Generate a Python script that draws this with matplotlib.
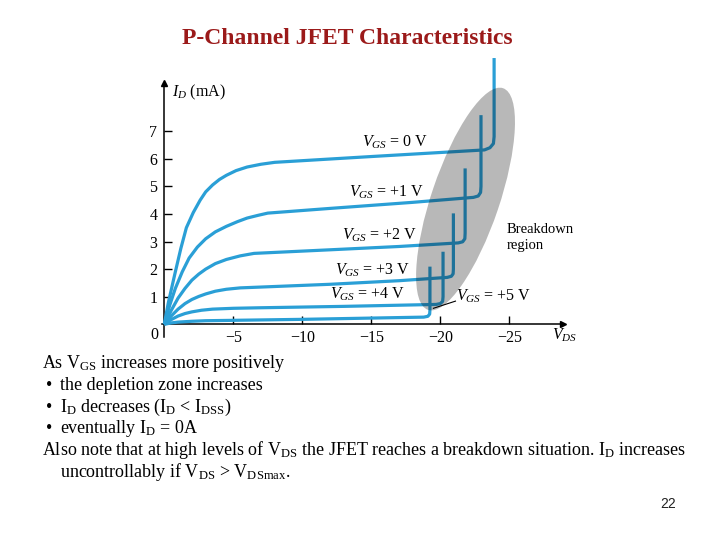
import matplotlib
matplotlib.use("Agg")
import matplotlib.pyplot as plt
from matplotlib.patches import Ellipse
from matplotlib.transforms import ScaledTranslation

plt.rcParams['font.family'] = ['Liberation Serif', 'DejaVu Serif']
plt.rcParams['mathtext.fontset'] = 'custom'
plt.rcParams['mathtext.rm'] = 'Liberation Serif'
plt.rcParams['mathtext.it'] = 'Liberation Serif:italic'

# Drain characteristics (V_DS in volts, I_D in mA)
vds_0 = [0, -0.3, -0.8, -1.2, -1.6, -2.1, -2.6, -3.0, -3.5, -4.0, -4.5, -5.2, -6, -7, -8,
         -15, -23.2, -23.6, -23.85, -23.9, -23.9]
id_0 = [0, 0.8, 1.9, 2.75, 3.5, 4.05, 4.5, 4.8, 5.05, 5.25, 5.4, 5.57, 5.7, 5.8, 5.87,
        6.08, 6.32, 6.4, 6.55, 6.8, 9.65]

vds_1 = [0, -0.4, -0.8, -1.3, -1.8, -2.4, -3, -3.7, -4.5, -5.3, -6, -6.8, -7.5,
         -12, -18, -22.4, -22.75, -22.92, -22.95, -22.95]
id_1 = [0, 0.7, 1.3, 1.9, 2.4, 2.8, 3.1, 3.35, 3.55, 3.72, 3.85, 3.95, 4.03,
        4.2, 4.42, 4.6, 4.65, 4.78, 5.0, 7.58]

vds_2 = [0, -0.5, -1, -1.5, -2, -2.5, -3, -3.7, -4.5, -5.5, -6.5,
         -12, -17, -21.3, -21.62, -21.78, -21.8, -21.8]
id_2 = [0, 0.5, 0.95, 1.3, 1.6, 1.82, 2.0, 2.2, 2.35, 2.48, 2.57,
        2.7, 2.82, 2.95, 2.99, 3.1, 3.3, 5.65]

vds_3 = [0, -0.5, -1, -1.5, -2, -2.5, -3, -3.7, -4.5, -5.5, -7,
         -12, -17, -20.5, -20.8, -20.93, -20.95, -20.95]
id_3 = [0, 0.3, 0.55, 0.75, 0.9, 1.01, 1.1, 1.2, 1.27, 1.32, 1.35,
        1.45, 1.58, 1.7, 1.74, 1.83, 2.0, 4.02]

vds_4 = [0, -0.5, -1, -1.5, -2, -2.7, -3.5, -5, -7, -13, -19.7, -20.0, -20.17, -20.2, -20.2]
id_4 = [0, 0.17, 0.3, 0.39, 0.45, 0.51, 0.55, 0.58, 0.6, 0.65, 0.72, 0.75, 0.83, 1.0, 2.63]

vds_5 = [0, -0.5, -1, -2, -3, -10, -18.8, -19.1, -19.23, -19.25, -19.25]
id_5 = [0, 0.05, 0.08, 0.11, 0.13, 0.18, 0.26, 0.29, 0.37, 0.52, 2.09]

curves = [(vds_0, id_0), (vds_1, id_1), (vds_2, id_2),
          (vds_3, id_3), (vds_4, id_4), (vds_5, id_5)]

vgs_labels = [r'$V_{GS}$ = 0 V', r'$V_{GS}$ = +1 V', r'$V_{GS}$ = +2 V',
              r'$V_{GS}$ = +3 V', r'$V_{GS}$ = +4 V', r'$V_{GS}$ = +5 V']
label_x = [-16.7, -16.1, -15.6, -15.1, -14.7, -23.9]
label_y = [6.6, 4.77, 3.24, 1.97, 1.09, 1.0]

x_ticks = [-5, -10, -15, -20, -25]
y_ticks = [1, 2, 3, 4, 5, 6, 7]

line_color = '#2a9fd6'

fig = plt.figure(figsize=(7.2, 5.4), dpi=100)
ax = fig.add_axes([140 / 720, 195 / 540, 430 / 720, 290 / 540])
ax.set_xlim(1.76, -29.4)
ax.set_ylim(-0.75, 9.76)

for vds, i_d in curves:
    ax.plot(vds, i_d, color=line_color, lw=2.3, solid_capstyle='butt',
            solid_joinstyle='round', zorder=3)

# breakdown region shading
ell = Ellipse((0, 0), width=2.34, height=0.68, angle=71.3,
              transform=fig.dpi_scale_trans + ScaledTranslation(-21.83, 4.54, ax.transData),
              facecolor='black', alpha=0.28, edgecolor='none', zorder=4)
ax.add_patch(ell)

for lab, lx, ly in zip(vgs_labels, label_x, label_y):
    ax.text(lx, ly, lab, ha='center', va='center', fontsize=11.5, zorder=5)
ax.plot([-21.1, -19.5], [0.84, 0.58], color='black', lw=0.8, zorder=5)
ax.text(-24.8, 3.45, 'Breakdown', ha='left', va='center', fontsize=10.5)
ax.text(-24.8, 2.84, 'region', ha='left', va='center', fontsize=10.5)

# axes drawn through the origin with arrows
for side in ['top', 'right']:
    ax.spines[side].set_visible(False)
ax.spines['left'].set_position(('data', 0))
ax.spines['bottom'].set_position(('data', 0))
ax.spines['left'].set_bounds(-0.45, 8.7)
ax.spines['bottom'].set_bounds(0.2, -28.9)
ax.spines['left'].set_linewidth(1.1)
ax.spines['bottom'].set_linewidth(1.1)
ax.plot(0, 8.74, marker='^', color='black', markersize=5, zorder=6, clip_on=False)
ax.plot(-28.9, 0, marker='>', color='black', markersize=5, zorder=6, clip_on=False)

ax.set_xticks(x_ticks)
ax.set_yticks(y_ticks)
ax.tick_params(axis='both', direction='in', length=6, width=1.0, labelsize=11.5)
ax.tick_params(axis='x', pad=4)
ax.tick_params(axis='y', pad=5)
ax.annotate('0', xy=(0, 0), xytext=(-7, -8), textcoords='offset points',
            ha='center', va='center', fontsize=11.5)
ax.text(-0.56, 8.42, r'$I_D$ (mA)', ha='left', va='center', fontsize=11.5)
ax.text(-29.0, -0.39, r'$V_{DS}$', ha='center', va='center', fontsize=11.5)

# slide text
fig.text(347 / 720, 1 - 38 / 540, 'P-Channel JFET Characteristics', ha='center',
         va='center', fontsize=17, fontweight='bold', color='#9b1a1a')

body = [
    (42, 368, r'As V$_{\mathrm{GS}}$ increases more positively'),
    (60, 390, 'the depletion zone increases'),
    (60, 412, r'I$_{\mathrm{D}}$ decreases (I$_{\mathrm{D}}$ < I$_{\mathrm{DSS}}$)'),
    (60, 433, r'eventually I$_{\mathrm{D}}$ = 0A'),
    (42, 455, r'Also note that at high levels of V$_{\mathrm{DS}}$ the JFET reaches a breakdown situation. I$_{\mathrm{D}}$ increases'),
    (60, 477, r'uncontrollably if V$_{\mathrm{DS}}$ > V$_{\mathrm{DSmax}}$.'),
]
for px, py, txt in body:
    fig.text(px / 720, 1 - py / 540, txt, ha='left', va='baseline', fontsize=13)
for py in [390, 412, 433]:
    fig.text(46 / 720, 1 - py / 540, '\u2022', ha='left', va='baseline', fontsize=13)

fig.text(668 / 720, 1 - 504 / 540, '22', ha='center', va='center', fontsize=10,
         family='Liberation Sans', color='#222222')

fig.savefig('out.png', dpi=100)
